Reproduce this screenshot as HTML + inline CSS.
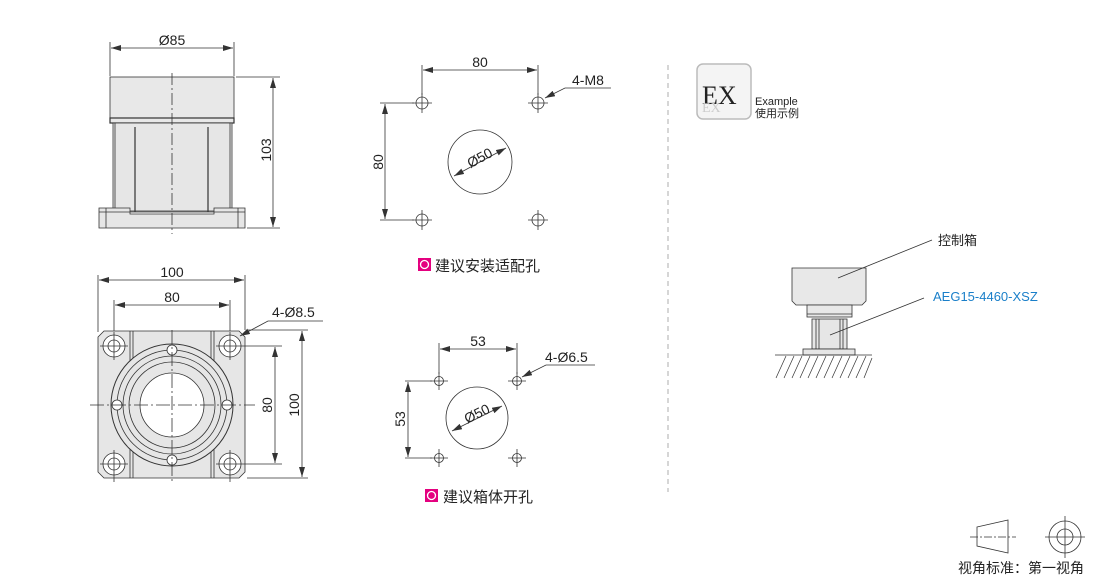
<!DOCTYPE html>
<html><head><meta charset="utf-8"><style>
html,body{margin:0;padding:0;background:#fff;width:1110px;height:578px;overflow:hidden}
svg{display:block}
text{font-family:"Liberation Sans","Noto Sans CJK SC",sans-serif;fill:#222}
</style></head><body>
<svg width="1110" height="578" viewBox="0 0 1110 578" xmlns="http://www.w3.org/2000/svg">
<defs>
<marker id="a" viewBox="0 0 10 6" refX="10" refY="3" markerWidth="10" markerHeight="6" orient="auto-start-reverse" markerUnits="userSpaceOnUse"><path d="M0,0L10,3L0,6z" fill="#333"/></marker>
</defs>
<g stroke="#333" stroke-width="0.8" fill="none">
<!-- side view -->
<line x1="110" y1="42" x2="110" y2="76"/><line x1="234" y1="42" x2="234" y2="76"/>
<line x1="111" y1="48" x2="233" y2="48" marker-start="url(#a)" marker-end="url(#a)"/>
<rect x="110" y="77" width="124" height="41" fill="#e8e8e8"/>
<rect x="110" y="118" width="124" height="5" fill="#e8e8e8" stroke-width="1.2"/>
<rect x="113" y="123" width="119" height="88" fill="#e6e6e6"/>
<line x1="115" y1="123" x2="115" y2="211"/><line x1="230" y1="123" x2="230" y2="211"/>
<line x1="135" y1="127" x2="135" y2="212" stroke-width="1.2"/><line x1="208" y1="127" x2="208" y2="212" stroke-width="1.2"/>
<path d="M99,208 H130 V214 H214 V208 H245 V228 H99 Z" fill="#e6e6e6"/>
<line x1="99" y1="212" x2="245" y2="212"/>
<line x1="106" y1="208" x2="106" y2="228"/><line x1="238" y1="208" x2="238" y2="228"/>
<line x1="172" y1="73" x2="172" y2="234" stroke-dasharray="12,3,2,3"/>
<line x1="236" y1="77" x2="280" y2="77"/><line x1="247" y1="228" x2="280" y2="228"/>
<line x1="273" y1="78" x2="273" y2="227" marker-start="url(#a)" marker-end="url(#a)"/>
<!-- top view -->
<line x1="98" y1="275" x2="98" y2="332"/><line x1="245" y1="275" x2="245" y2="330"/>
<line x1="99" y1="280" x2="244" y2="280" marker-start="url(#a)" marker-end="url(#a)"/>
<line x1="114" y1="300" x2="114" y2="340"/><line x1="230" y1="300" x2="230" y2="340"/>
<line x1="115" y1="305" x2="229" y2="305" marker-start="url(#a)" marker-end="url(#a)"/>
<path d="M104,331 H239 L245,337 V472 L239,478 H104 L98,472 V337 Z" fill="#e6e6e6"/>
<line x1="130" y1="331" x2="130" y2="478"/><line x1="133" y1="331" x2="133" y2="478"/>
<line x1="211" y1="331" x2="211" y2="478"/><line x1="214" y1="331" x2="214" y2="478"/>
<circle cx="172" cy="405" r="61" fill="#e6e6e6" stroke-width="1"/>
<circle cx="172" cy="405" r="55"/>
<circle cx="172" cy="405" r="49"/>
<circle cx="172" cy="405" r="43"/>
<circle cx="172" cy="405" r="32" fill="#fff"/>
<g fill="#fff">
<circle cx="114" cy="346" r="11"/><circle cx="114" cy="346" r="6"/>
<circle cx="230" cy="346" r="11"/><circle cx="230" cy="346" r="6"/>
<circle cx="114" cy="464" r="11"/><circle cx="114" cy="464" r="6"/>
<circle cx="230" cy="464" r="11"/><circle cx="230" cy="464" r="6"/>
<circle cx="172" cy="350" r="5"/><circle cx="172" cy="460" r="5"/>
<circle cx="117" cy="405" r="5"/><circle cx="227" cy="405" r="5"/>
</g>
<line x1="90" y1="405" x2="255" y2="405" stroke-dasharray="14,3,2,3"/>
<line x1="172" y1="330" x2="172" y2="482" stroke-dasharray="14,3,2,3"/>
<line x1="100" y1="346" x2="128" y2="346"/><line x1="114" y1="332" x2="114" y2="360"/>
<line x1="216" y1="346" x2="282" y2="346"/><line x1="230" y1="332" x2="230" y2="360"/>
<line x1="100" y1="464" x2="128" y2="464"/><line x1="114" y1="450" x2="114" y2="482"/>
<line x1="216" y1="464" x2="282" y2="464"/><line x1="230" y1="450" x2="230" y2="482"/>
<line x1="247" y1="330" x2="308" y2="330"/><line x1="247" y1="478" x2="308" y2="478"/>
<line x1="275" y1="347" x2="275" y2="463" marker-start="url(#a)" marker-end="url(#a)"/>
<line x1="302" y1="331" x2="302" y2="477" marker-start="url(#a)" marker-end="url(#a)"/>
<polyline points="323,321 268,321 240,336" marker-end="url(#a)"/>
<!-- middle top -->
<line x1="422" y1="65" x2="422" y2="95"/><line x1="538" y1="65" x2="538" y2="95"/>
<line x1="423" y1="70" x2="537" y2="70" marker-start="url(#a)" marker-end="url(#a)"/>
<line x1="380" y1="103" x2="414" y2="103"/><line x1="380" y1="220" x2="414" y2="220"/>
<line x1="385" y1="104" x2="385" y2="219" marker-start="url(#a)" marker-end="url(#a)"/>
<g>
<circle cx="422" cy="103" r="6"/><line x1="412" y1="103" x2="432" y2="103"/><line x1="422" y1="93" x2="422" y2="113"/>
<circle cx="538" cy="103" r="6"/><line x1="528" y1="103" x2="548" y2="103"/><line x1="538" y1="93" x2="538" y2="113"/>
<circle cx="422" cy="220" r="6"/><line x1="412" y1="220" x2="432" y2="220"/><line x1="422" y1="210" x2="422" y2="230"/>
<circle cx="538" cy="220" r="6"/><line x1="528" y1="220" x2="548" y2="220"/><line x1="538" y1="210" x2="538" y2="230"/>
</g>
<circle cx="480" cy="162" r="32"/>
<line x1="454" y1="176" x2="506" y2="148" marker-start="url(#a)" marker-end="url(#a)"/>
<polyline points="611,88 565,88 545,98" marker-end="url(#a)"/>
<!-- middle bottom -->
<line x1="439" y1="343" x2="439" y2="374"/><line x1="517" y1="343" x2="517" y2="374"/>
<line x1="440" y1="349" x2="516" y2="349" marker-start="url(#a)" marker-end="url(#a)"/>
<line x1="405" y1="381" x2="432" y2="381"/><line x1="405" y1="458" x2="432" y2="458"/>
<line x1="408" y1="382" x2="408" y2="457" marker-start="url(#a)" marker-end="url(#a)"/>
<g>
<circle cx="439" cy="381" r="4.5"/><line x1="430" y1="381" x2="448" y2="381"/><line x1="439" y1="372" x2="439" y2="390"/>
<circle cx="517" cy="381" r="4.5"/><line x1="508" y1="381" x2="526" y2="381"/><line x1="517" y1="372" x2="517" y2="390"/>
<circle cx="439" cy="458" r="4.5"/><line x1="430" y1="458" x2="448" y2="458"/><line x1="439" y1="449" x2="439" y2="467"/>
<circle cx="517" cy="458" r="4.5"/><line x1="508" y1="458" x2="526" y2="458"/><line x1="517" y1="449" x2="517" y2="467"/>
</g>
<circle cx="477" cy="418" r="31"/>
<line x1="452" y1="431" x2="502" y2="406" marker-start="url(#a)" marker-end="url(#a)"/>
<polyline points="595,365 546,365 522,377" marker-end="url(#a)"/>
<!-- divider -->
<line x1="668" y1="65" x2="668" y2="492" stroke="#999" stroke-dasharray="5,4"/>
<!-- right example -->
<path d="M792,268 H866 V301 L862,305 H796 L792,301 Z" fill="#e8e8e8"/>
<rect x="807" y="305" width="45" height="12" fill="#e8e8e8"/>
<line x1="807" y1="314" x2="852" y2="314"/>
<rect x="812" y="319" width="35" height="30" fill="#e6e6e6"/>
<line x1="816" y1="319" x2="816" y2="349"/><line x1="819" y1="319" x2="819" y2="349"/>
<line x1="840" y1="319" x2="840" y2="349"/><line x1="843" y1="319" x2="843" y2="349"/>
<rect x="803" y="349" width="52" height="6" fill="#e6e6e6"/>
<line x1="775" y1="355" x2="872" y2="355"/>
<g stroke-width="0.7">
<line x1="786" y1="356" x2="776" y2="378"/><line x1="794" y1="356" x2="784" y2="378"/><line x1="802" y1="356" x2="792" y2="378"/><line x1="810" y1="356" x2="800" y2="378"/><line x1="818" y1="356" x2="808" y2="378"/><line x1="826" y1="356" x2="816" y2="378"/><line x1="834" y1="356" x2="824" y2="378"/><line x1="842" y1="356" x2="832" y2="378"/><line x1="850" y1="356" x2="840" y2="378"/><line x1="858" y1="356" x2="848" y2="378"/><line x1="866" y1="356" x2="856" y2="378"/><line x1="872" y1="358" x2="864" y2="378"/>
</g>
<line x1="932" y1="240" x2="838" y2="278"/>
<line x1="924" y1="298" x2="830" y2="335"/>
<!-- view standard -->
<path d="M977,527 L1008,520 V553 L977,546 Z"/>
<line x1="970" y1="537" x2="1016" y2="537" stroke-dasharray="8,2,2,2"/>
<circle cx="1065" cy="537" r="16"/><circle cx="1065" cy="537" r="8"/>
<line x1="1045" y1="537" x2="1085" y2="537"/><line x1="1065" y1="516" x2="1065" y2="558"/>
</g>
<!-- EX icon -->
<rect x="697" y="64" width="54" height="55" rx="6" fill="#f4f4f4" stroke="#bbb" stroke-width="1.5"/>
<text x="702" y="104" style="font-family:'Liberation Serif',serif;font-size:26px" fill="#333">EX</text>
<text x="702" y="112" style="font-family:'Liberation Serif',serif;font-size:14px;fill:#ccc">EX</text>
<text x="755" y="105" font-size="11">Example</text>
<text x="755" y="117" font-size="11">使用示例</text>
<!-- labels -->
<text x="172" y="45" font-size="14" text-anchor="middle">Ø85</text>
<text transform="translate(271,150) rotate(-90)" font-size="14" text-anchor="middle">103</text>
<text x="172" y="277" font-size="14" text-anchor="middle">100</text>
<text x="172" y="302" font-size="14" text-anchor="middle">80</text>
<text x="272" y="317" font-size="14">4-Ø8.5</text>
<text transform="translate(272,405) rotate(-90)" font-size="14" text-anchor="middle">80</text>
<text transform="translate(299,405) rotate(-90)" font-size="14" text-anchor="middle">100</text>
<text x="480" y="67" font-size="14" text-anchor="middle">80</text>
<text transform="translate(383,162) rotate(-90)" font-size="14" text-anchor="middle">80</text>
<text transform="translate(482,162) rotate(-28)" font-size="14" text-anchor="middle">Ø50</text>
<text x="572" y="85" font-size="14">4-M8</text>
<rect x="418" y="258" width="13" height="13" fill="#e4007f"/><circle cx="424.5" cy="264.5" r="4" fill="none" stroke="#fff" stroke-width="1.3"/>
<text x="435" y="271" font-size="15">建议安装适配孔</text>
<text x="478" y="346" font-size="14" text-anchor="middle">53</text>
<text transform="translate(405,419) rotate(-90)" font-size="14" text-anchor="middle">53</text>
<text transform="translate(479,418) rotate(-26)" font-size="14" text-anchor="middle">Ø50</text>
<text x="545" y="362" font-size="14">4-Ø6.5</text>
<rect x="425" y="489" width="13" height="13" fill="#e4007f"/><circle cx="431.5" cy="495.5" r="4" fill="none" stroke="#fff" stroke-width="1.3"/>
<text x="443" y="502" font-size="15">建议箱体开孔</text>
<text x="938" y="245" font-size="13">控制箱</text>
<text x="933" y="301" font-size="13" style="fill:#1a7fc9">AEG15-4460-XSZ</text>
<text x="958" y="573" font-size="14">视角标准：第一视角</text>
</svg>
</body></html>
